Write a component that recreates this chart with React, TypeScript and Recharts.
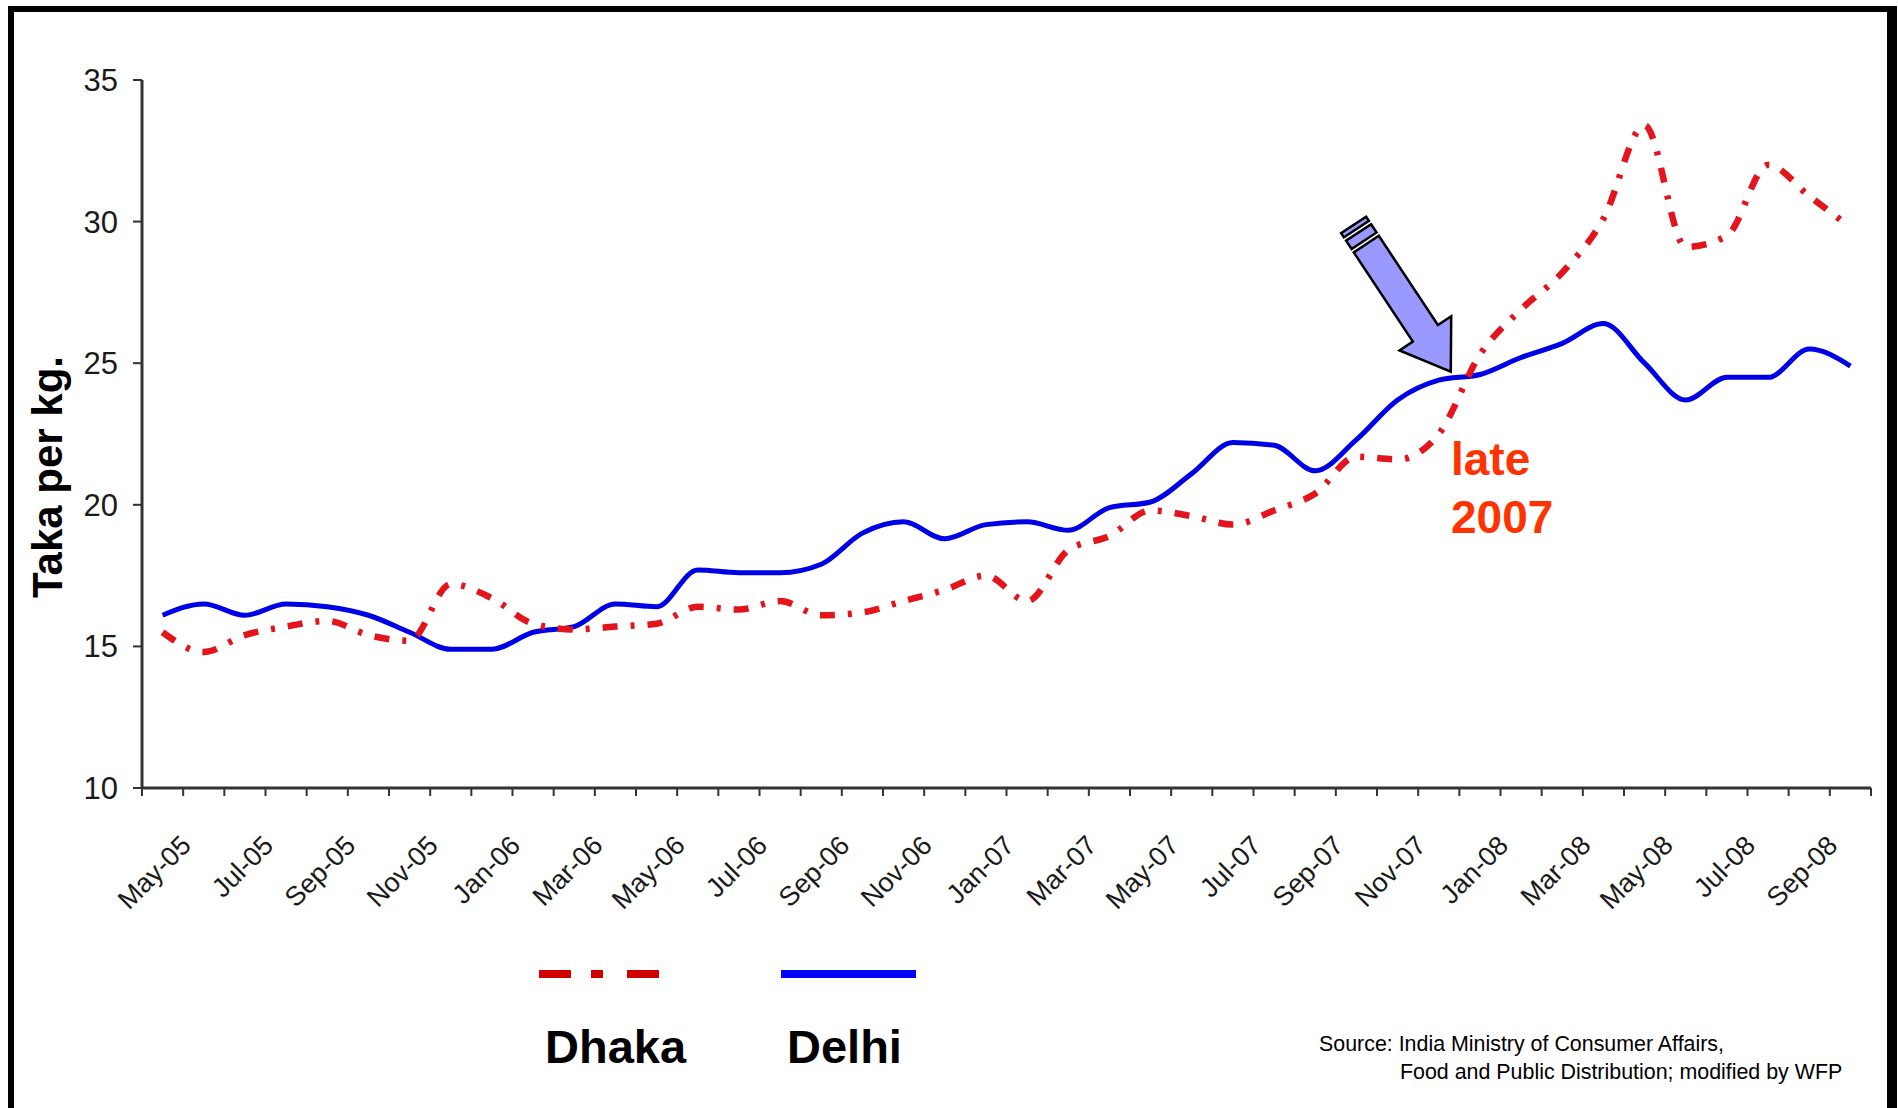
import { LineChart, Line, XAxis, YAxis, ReferenceDot } from 'recharts'

const months = [
  'May-05', 'Jun-05', 'Jul-05', 'Aug-05', 'Sep-05', 'Oct-05', 'Nov-05', 'Dec-05',
  'Jan-06', 'Feb-06', 'Mar-06', 'Apr-06', 'May-06', 'Jun-06', 'Jul-06', 'Aug-06',
  'Sep-06', 'Oct-06', 'Nov-06', 'Dec-06', 'Jan-07', 'Feb-07', 'Mar-07', 'Apr-07',
  'May-07', 'Jun-07', 'Jul-07', 'Aug-07', 'Sep-07', 'Oct-07', 'Nov-07', 'Dec-07',
  'Jan-08', 'Feb-08', 'Mar-08', 'Apr-08', 'May-08', 'Jun-08', 'Jul-08', 'Aug-08',
  'Sep-08', 'Oct-08',
]

// Taka per kg, monthly
const dhaka = [
  15.5, 14.8, 15.4, 15.7, 15.9, 15.4, 15.2, 17.2, 16.7, 15.8, 15.6, 15.7, 15.8, 16.4,
  16.3, 16.6, 16.1, 16.2, 16.6, 17.0, 17.5, 16.6, 18.4, 18.9, 19.8, 19.6, 19.3, 19.8,
  20.4, 21.7, 21.6, 22.5, 25.3, 26.9, 28.2, 30.1, 33.4, 29.1, 29.5, 32.0, 30.9, 29.8,
]
const delhi = [
  16.1, 16.5, 16.1, 16.5, 16.4, 16.1, 15.5, 14.9, 14.9, 15.5, 15.7, 16.5, 16.4, 17.7,
  17.6, 17.6, 17.9, 19.0, 19.4, 18.8, 19.3, 19.4, 19.1, 19.9, 20.1, 21.1, 22.2, 22.1,
  21.2, 22.3, 23.7, 24.4, 24.6, 25.2, 25.7, 26.4, 25.0, 23.7, 24.5, 24.5, 25.5, 24.9,
]
const priceTicks = [10, 15, 20, 25, 30, 35]

// where the call-out arrow points
const arrowMonth = 'Dec-07'
const arrowValue = 24.7

const data = months.map((month, i) => ({ month, dhaka: dhaka[i], delhi: delhi[i] }))

const WIDTH = 1898
const HEIGHT = 1108
const FONT = '"Liberation Sans", Arial, sans-serif'
const RED = '#e3141b'
const BLUE = '#0000e6'
const margin = { top: 80, right: 27, bottom: 220, left: 70 }
const bandGuess = (WIDTH - margin.left - 72 - margin.right) / months.length

// Excel style: tick marks between categories, label on every other month
function MonthTick(props: any) {
  const { x, y, payload, index } = props
  const half = payload?.offset || bandGuess / 2
  const idx = index ?? payload?.index ?? 0
  return (
    <g>
      <line x1={x - half} x2={x - half} y1={y} y2={y + 8} stroke="#333" strokeWidth={2} />
      {idx === months.length - 1 && (
        <line x1={x + half} x2={x + half} y1={y} y2={y + 8} stroke="#333" strokeWidth={2} />
      )}
      {idx % 2 === 0 && (
        <text
          x={x + 30}
          y={y + 59}
          transform={`rotate(-45, ${x + 30}, ${y + 59})`}
          textAnchor="end"
          fontFamily={FONT}
          fontSize={27}
          fill="#1a1a1a"
        >
          {payload.value}
        </text>
      )}
    </g>
  )
}

function StripedArrow(props: any) {
  const { cx, cy } = props
  return (
    <g transform={`translate(${cx + 12}, ${cy}) rotate(56.5)`}>
      <polygon
        points="0,0 -46,-31 -46,-15 -153,-15 -153,15 -46,15 -46,31"
        fill="#9999ff"
        stroke="#000"
        strokeWidth={2.5}
        strokeLinejoin="miter"
      />
      <rect x={-167} y={-15} width={10} height={30} fill="#9999ff" stroke="#000" strokeWidth={2.5} />
      <rect x={-176} y={-15} width={5} height={30} fill="#9999ff" stroke="#000" strokeWidth={2.5} />
    </g>
  )
}

export default function App() {
  return (
    <div
      style={{
        position: 'absolute',
        left: 0,
        top: 0,
        width: WIDTH,
        height: HEIGHT,
        overflow: 'hidden',
        background: '#fff',
      }}
    >
      <div
        style={{
          position: 'absolute',
          left: 8,
          top: 6,
          width: 1889,
          height: 1300,
          boxSizing: 'border-box',
          borderTop: '6px solid #000',
          borderLeft: '6px solid #000',
          borderRight: '10px solid #000',
        }}
      />
      <div style={{ position: 'absolute', left: 0, top: 0 }}>
        <LineChart width={WIDTH} height={HEIGHT} data={data} margin={margin}>
          <XAxis
            dataKey="month"
            scale="band"
            interval={0}
            height={100}
            tickSize={0}
            tickMargin={0}
            tickLine={false}
            axisLine={{ stroke: '#333', strokeWidth: 3 }}
            tick={<MonthTick />}
          />
          <YAxis
            domain={[10, 35]}
            ticks={priceTicks}
            width={72}
            tickSize={9}
            tickMargin={15}
            axisLine={{ stroke: '#333', strokeWidth: 3 }}
            tickLine={{ stroke: '#333', strokeWidth: 2 }}
            tick={{ fontFamily: FONT, fontSize: 31, fill: '#1a1a1a' }}
          />
          <Line
            type="monotone"
            dataKey="delhi"
            stroke={BLUE}
            strokeWidth={5}
            dot={false}
            isAnimationActive={false}
          />
          <Line
            type="monotone"
            dataKey="dhaka"
            stroke={RED}
            strokeWidth={6.5}
            strokeDasharray="15 13 4 13"
            dot={false}
            isAnimationActive={false}
          />
          <ReferenceDot x={arrowMonth} y={arrowValue} shape={<StripedArrow />} />
        </LineChart>
      </div>
      <svg
        width={WIDTH}
        height={HEIGHT}
        style={{ position: 'absolute', left: 0, top: 0, pointerEvents: 'none' }}
        fontFamily={FONT}
      >
        <text x={-477} y={62} transform="rotate(-90)" textAnchor="middle" fontSize={42} fontWeight="bold" fill="#000">
          Taka per kg.
        </text>
        <text fontSize={46} fontWeight="bold" fill="#ff3300">
          <tspan x={1451} y={475}>late</tspan>
          <tspan x={1451} y={533}>2007</tspan>
        </text>
        {/* legend */}
        <line x1={539} x2={660} y1={974} y2={974} stroke="#d00000" strokeWidth={8} strokeDasharray="32 20 12 24" />
        <line x1={781} x2={916} y1={974} y2={974} stroke="#0000ff" strokeWidth={8} />
        <text x={545} y={1063} fontSize={47} fontWeight="bold" fill="#000">Dhaka</text>
        <text x={787} y={1063} fontSize={47} fontWeight="bold" fill="#000">Delhi</text>
        <text fontSize={21.4} fill="#000">
          <tspan x={1319} y={1051}>Source: India Ministry of Consumer Affairs,</tspan>
          <tspan x={1400} y={1079}>Food and Public Distribution; modified by WFP</tspan>
        </text>
      </svg>
    </div>
  )
}
